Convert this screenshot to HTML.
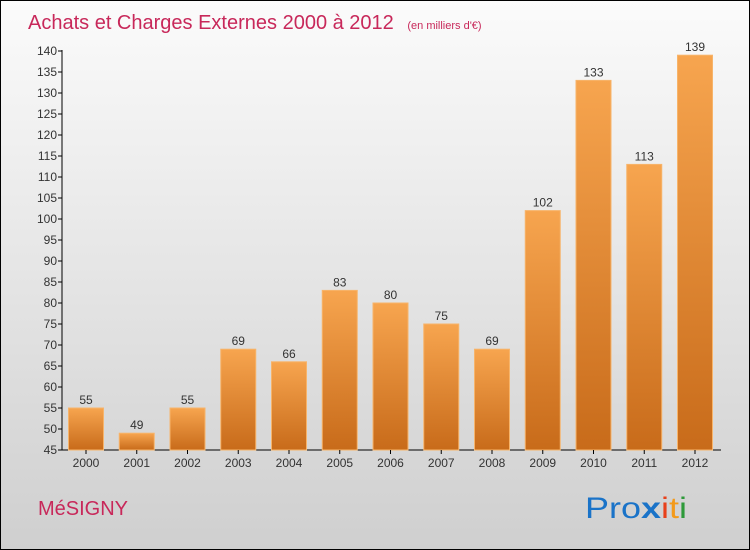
<!DOCTYPE html>
<html><head><meta charset="utf-8"><style>
body{margin:0}
#wrap{position:relative;width:748px;height:548px;border:1px solid #000;background:linear-gradient(#fbfbfb,#cfcfcf);overflow:hidden;font-family:"Liberation Sans",sans-serif}
</style></head><body>
<div id="wrap">
<svg width="748" height="548" id="svg">
<defs><linearGradient id="bg" x1="0" y1="0" x2="0" y2="1"><stop offset="0" stop-color="#f7a54f"/><stop offset="1" stop-color="#c86b1a"/></linearGradient></defs>
<text x="27" y="28" font-size="20" fill="#c8285a">Achats et Charges Externes 2000 à 2012 <tspan font-size="11" dx="8">(en milliers d'€)</tspan></text>
<text x="37" y="514" font-size="20" fill="#c8285a">MéSIGNY</text>
<text x="584" y="517" font-size="30" textLength="102" lengthAdjust="spacingAndGlyphs"><tspan fill="#1a73c8">Pro</tspan><tspan fill="#1a73c8" font-weight="bold">x</tspan><tspan fill="#e8401a">i</tspan><tspan fill="#f39a1a">t</tspan><tspan fill="#2e9a3a">i</tspan></text>
<g id="g"></g>
</svg></div>
<script>
const years=["2000","2001","2002","2003","2004","2005","2006","2007","2008","2009","2010","2011","2012"];
const values=[55,49,55,69,66,83,80,75,69,102,133,113,139];
const yTicks=[45,50,55,60,65,70,75,80,85,90,95,100,105,110,115,120,125,130,135,140];
const NS="http://www.w3.org/2000/svg";
const g=document.getElementById('g');
const y=v=>449-(v-45)*(399/95);
const x=i=>85+i*50.75;
function mk(t,a){const e=document.createElementNS(NS,t);for(const k in a)e.setAttribute(k,a[k]);g.appendChild(e);return e;}
let ax=mk('line',{x1:61,y1:49,x2:61,y2:449,stroke:'#000'});

let bx=mk('line',{x1:61,y1:449,x2:720,y2:449,stroke:'#000'});

yTicks.forEach(v=>{
 mk('line',{x1:57,x2:61,y1:y(v),y2:y(v),stroke:'#000'});
 const t=mk('text',{x:56,y:y(v)+4,'text-anchor':'end','font-size':12,fill:'#333'});t.textContent=v;
 
});
years.forEach((yr,i)=>{
 const v=values[i];
 const r=mk('rect',{x:x(i)-17.5,y:y(v),width:35,height:449-y(v),fill:'url(#bg)',stroke:'#f7b46a','stroke-width':1});
 
 mk('line',{x1:x(i),x2:x(i),y1:449,y2:453,stroke:'#000'});
 const l=mk('text',{x:x(i),y:y(v)-4,'text-anchor':'middle','font-size':12,fill:'#333'});l.textContent=v;
 
 const xl=mk('text',{x:x(i),y:466,'text-anchor':'middle','font-size':12,fill:'#333'});xl.textContent=yr;
 
});
</script>
</body></html>
